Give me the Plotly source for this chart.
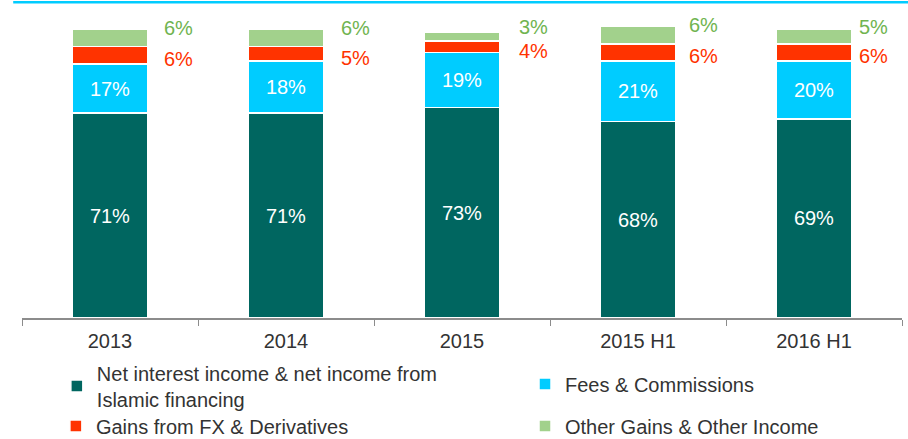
import plotly.graph_objects as go

categories = ["2013", "2014", "2015", "2015 H1", "2016 H1"]
net_interest = [71, 71, 73, 68, 69]
fees = [17, 18, 19, 21, 20]
gains_fx = [6, 5, 4, 6, 6]
other_gains = [6, 6, 3, 6, 5]

series_names = [
    "Net interest income & net income from<br>Islamic financing",
    "Fees & Commissions",
    "Gains from FX & Derivatives",
    "Other Gains & Other Income",
]
colors = ["#006660", "#00CCFF", "#FF3300", "#A2D18C"]
legend_ids = ["legend", "legend2", "legend3", "legend4"]
FONT = "Liberation Sans, Arial, sans-serif"

fig = go.Figure()
for i, (vals, name, col) in enumerate(zip([net_interest, fees, gains_fx, other_gains], series_names, colors)):
    kw = {}
    if i < 2:
        kw = dict(text=[f"{v}%" for v in vals], textposition="inside",
                  insidetextanchor="middle",
                  textfont=dict(color="white", size=20, family=FONT))
    fig.add_trace(go.Bar(
        x=categories, y=vals, name=name,
        marker=dict(color=col, line=dict(color="white", width=1.5)),
        hoverinfo="skip",
        legend=legend_ids[i],
        **kw,
    ))

# outside labels for the two small segments
label_xshift = [68, 69, 71, 65, 59]
annotations = []
for k, c in enumerate(categories):
    base_red = net_interest[k] + fees[k]
    annotations.append(dict(
        x=k, y=base_red + gains_fx[k] / 2, xref="x", yref="y",
        text=f"{gains_fx[k]}%", showarrow=False, xshift=label_xshift[k], yshift=-4,
        font=dict(color="#FF3300", size=20, family=FONT)))
    base_green = base_red + gains_fx[k]
    annotations.append(dict(
        x=k, y=base_green + other_gains[k] / 2, xref="x", yref="y",
        text=f"{other_gains[k]}%", showarrow=False, xshift=label_xshift[k], yshift=10,
        font=dict(color="#70B450", size=20, family=FONT)))

def leg(x, y):
    return dict(x=x, y=y, xanchor="left", yanchor="middle", xref="paper", yref="paper",
                orientation="v", itemwidth=30, valign="middle", bgcolor="rgba(0,0,0,0)",
                font=dict(size=20, color="#333333", family=FONT))

# plot area: x 22..902, y 25..318 (page pixels)
fig.update_layout(
    barmode="stack",
    bargap=0.57,
    width=908, height=439,
    margin=dict(l=22, r=6, t=25, b=121, autoexpand=False),
    plot_bgcolor="white", paper_bgcolor="white",
    font=dict(family=FONT, size=20, color="#333333"),
    showlegend=True,
    legend=leg(0.0396, -0.232),
    legend2=leg(0.5716, -0.2253),
    legend3=leg(0.0385, -0.3686),
    legend4=leg(0.5716, -0.3686),
    annotations=annotations,
    shapes=[dict(type="line", xref="paper", yref="paper", x0=-0.01, x1=1.01, y0=1.078, y1=1.078,
                 line=dict(color="#00CCFF", width=2.5))],
    xaxis=dict(
        type="category", range=[-0.5, 4.5], autorange=False,
        showline=True, linecolor="#8C8C8C", linewidth=1.5,
        ticks="outside", tickson="boundaries", ticklen=6, tickcolor="#8C8C8C",
        ticklabelstandoff=4,
        tickfont=dict(size=20, color="#333333", family=FONT),
        showgrid=False,
    ),
    yaxis=dict(range=[0, 101.5], autorange=False, visible=False, showgrid=False),
)

fig.write_html("out.html", config={"displayModeBar": False},
               post_script="document.body.style.margin='0';")
